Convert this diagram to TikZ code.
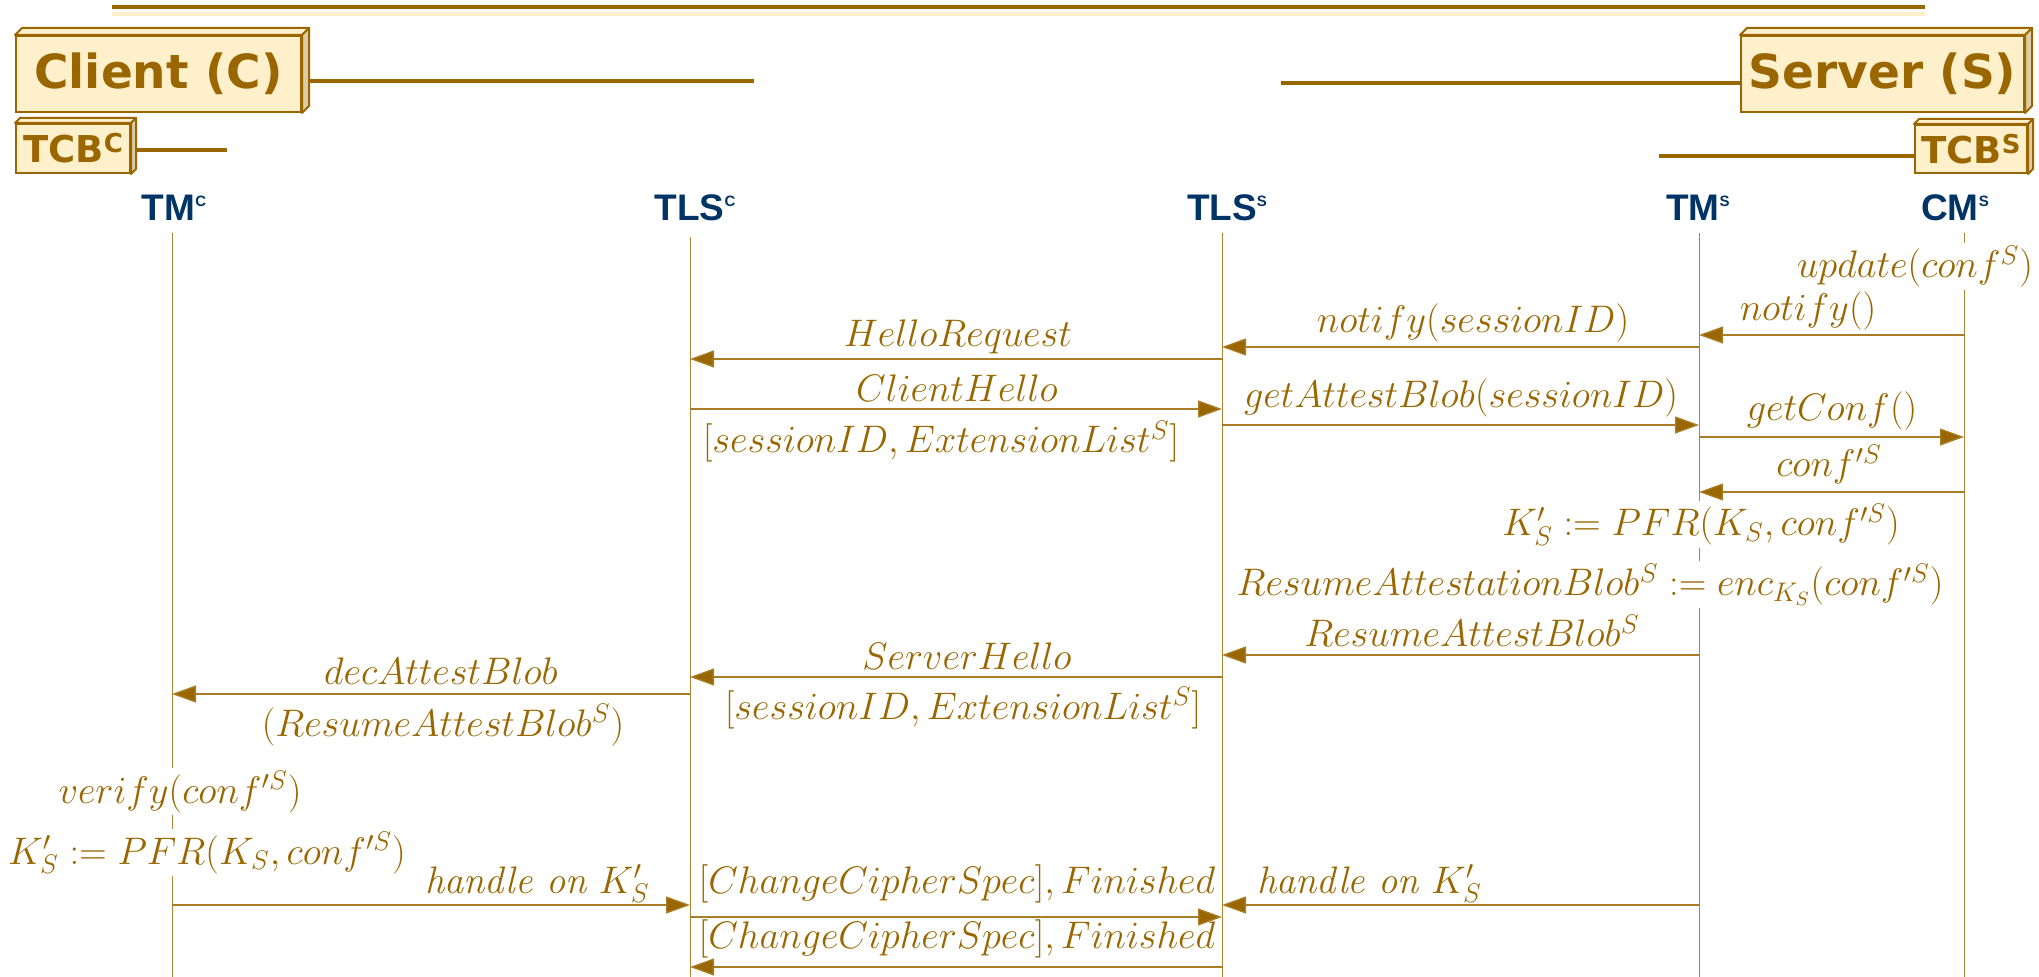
\RequirePackage{fix-cm}
\documentclass[tikz,border=0pt]{standalone}
\usepackage{fontspec}
\usetikzlibrary{arrows.meta}
\newfontfamily\boxfont{DejaVu Sans}
\newfontfamily\headfont{Liberation Sans}
\definecolor{brn}{HTML}{996600}
\definecolor{crm}{HTML}{FFF0CC}
\definecolor{crmside}{HTML}{DDCCA6}
\definecolor{navy}{HTML}{003366}
% small raised letters in the lifeline headers and the TCB boxes
\newcommand\hsup[1]{\raisebox{7pt}{\fontsize{7.5}{8}\selectfont #1}}
\newcommand\tsup[1]{\raisebox{5pt}{\fontsize{13}{13}\selectfont #1}}
% top and right faces of a raised box drawn behind a front-face node
\newcommand\boxsides[2]{%
  \filldraw[draw=brn, line width=1pt, fill=crm, line join=round]
    (#1.north west) -- ([shift={(#2,-#2)}]#1.north west) -- ([shift={(#2,-#2)}]#1.north east) -- (#1.north east) -- cycle;
  \filldraw[draw=brn, line width=1pt, fill=crmside, line join=round]
    (#1.north east) -- ([shift={(#2,-#2)}]#1.north east) -- ([shift={(#2,-#2)}]#1.south east) -- (#1.south east) -- cycle;}
% one message between two lifelines at height #3
\newcommand\msg[3]{\draw[msg] (#1 |- 0,#3) -- (#2 |- 0,#3);}

\begin{document}
\begin{tikzpicture}[x=0.5pt,y=-0.5pt,
  frontbox/.style={draw=brn, line width=1pt, fill=crm, text=brn, inner sep=0pt, anchor=north west},
  bigbox/.style={frontbox, font=\boxfont\bfseries\fontsize{23.5}{28}\selectfont, minimum height=38pt},
  smallbox/.style={frontbox, font=\boxfont\bfseries\fontsize{18.5}{22}\selectfont, minimum height=24.5pt},
  rule/.style={draw=brn, line width=1.8pt},
  head/.style={text=navy, font=\headfont\bfseries\fontsize{18.5}{22}\selectfont, anchor=base, inner sep=0pt},
  life/.style={draw=brn!80, line width=0.5pt},
  msg/.style={draw=brn!85, line width=0.65pt, -{Triangle[length=12pt,width=8.5pt,fill=brn]}},
  lbl/.style={text=brn, inner sep=0pt, anchor=base, font=\fontsize{19.2}{23}\selectfont},
  note/.style={lbl, fill=white, text height=17.5pt, text depth=6pt, inner xsep=1pt}
]
\useasboundingbox (0,0) rectangle (2039,977);

% rule along the top
\coordinate (topL) at (112,7);  \coordinate (topR) at (1925,7);
\coordinate (topLs) at (112,14); \coordinate (topRs) at (1925,14);
\draw[brn, line width=2pt] (topL) -- (topR);
\draw[crm, line width=2pt] (topLs) -- (topRs);

% parties and their trusted computing bases
\node[bigbox, minimum width=142.5pt] (client) at (15,35) {Client (C)};
\boxsides{client}{7}
\node[bigbox, minimum width=141.5pt] (server) at (1740,35) {Server (S)};
\boxsides{server}{7}
\node[smallbox, minimum width=57pt] (tcbc) at (15,123) {TCB\tsup{C}};
\boxsides{tcbc}{5}
\node[smallbox, minimum width=56pt, minimum height=24pt] (tcbs) at (1914,124) {TCB\tsup{S}};
\boxsides{tcbs}{5}

\coordinate (clientEnd) at (754,81);
\draw[rule] (client.east |- clientEnd) ++(7,0) -- (clientEnd);
\coordinate (serverEnd) at (1281,83);
\draw[rule] (serverEnd) -- (serverEnd -| server.west);
\coordinate (tcbcEnd) at (227,150);
\draw[rule] (tcbc.east |- tcbcEnd) ++(5,0) -- (tcbcEnd);
\coordinate (tcbsEnd) at (1659,156);
\draw[rule] (tcbsEnd) -- (tcbsEnd -| tcbs.west);

% lifeline headers
\node[head] (hTMC)  at (174,221)  {TM\hsup{C}};
\node[head] (hTLSC) at (695,221)  {TLS\hsup{C}};
\node[head] (hTLSS) at (1227,221) {TLS\hsup{S}};
\node[head] (hTMS)  at (1698,221) {TM\hsup{S}};
\node[head] (hCMS)  at (1955,221) {CM\hsup{S}};

% lifelines
\foreach \n/\x/\t in {TMC/172/233, TLSC/690/237, TLSS/1222/233, TMS/1699/233, CMS/1964/233} {
  \coordinate (\n) at (\x,977);
  \coordinate (\n top) at (\x,\t);
  \draw[life] (\n top) -- (\n);
}

% messages
\msg{CMS}{TMS}{335}
\msg{TMS}{TLSS}{347}
\msg{TLSS}{TLSC}{359}
\msg{TLSC}{TLSS}{409}
\msg{TLSS}{TMS}{425}
\msg{TMS}{CMS}{437}
\msg{CMS}{TMS}{492}
\msg{TMS}{TLSS}{655}
\msg{TLSS}{TLSC}{677}
\msg{TLSC}{TMC}{694}
\msg{TMC}{TLSC}{905}
\msg{TMS}{TLSS}{905}
\msg{TLSC}{TLSS}{917}
\msg{TLSS}{TLSC}{967}

% message labels and local actions
\node[note] (nUpdate) at (1915,278) {$update(conf^S)$};
\node[lbl] (lNotify) at (1808,321) {$notify()$};
\node[lbl] (lNotifySid) at (1473,333) {$notify(sessionID)$};
\node[lbl] (lHelloReq) at (958,347) {$HelloRequest$};
\node[lbl] (lClientHello) at (957,402) {$ClientHello$};
\node[lbl] (lExtA) at (941,453) {$[sessionID, ExtensionList^S]$};
\node[lbl] (lGetBlob) at (1461,408) {$getAttestBlob(sessionID)$};
\node[lbl] (lGetConf) at (1832,421) {$getConf()$};
\node[lbl] (lConf) at (1829,477) {$conf'^S$};
\node[note] (nKeyS) at (1701,536) {$K'_S := PFR(K_S, conf'^S)$};
\node[note] (nBlob) at (1590,596) {$ResumeAttestationBlob^S := enc_{K_S}(conf'^S)$};
\node[lbl] (lResume) at (1472,647) {$ResumeAttestBlob^S$};
\node[lbl] (lServerHello) at (967,670) {$ServerHello$};
\node[lbl] (lExtB) at (963,719) {$[sessionID, ExtensionList^S]$};
\node[lbl] (lDec) at (441,685) {$decAttestBlob$};
\node[lbl] (lDecArg) at (443,736) {$(ResumeAttestBlob^S)$};
\node[note] (nVerify) at (180,803) {$verify(conf'^S)$};
\node[note] (nKeyC) at (207,864) {$K'_S := PFR(K_S, conf'^S)$};
\node[lbl, anchor=base east] (lHandleC) at (650,893) {\textit{handle on} $K'_S$};
\node[lbl] (lCCSA) at (957,893) {$[ChangeCipherSpec], Finished$};
\node[lbl] (lCCSB) at (957,948) {$[ChangeCipherSpec], Finished$};
\node[lbl, anchor=base west] (lHandleS) at (1257,893) {\textit{handle on} $K'_S$};
\end{tikzpicture}
\end{document}
